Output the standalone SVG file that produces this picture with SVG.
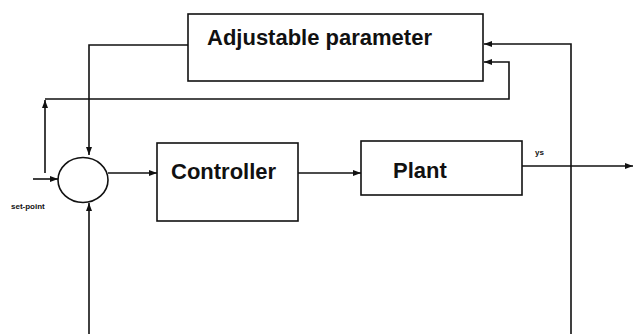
<svg xmlns="http://www.w3.org/2000/svg" width="634" height="334" viewBox="0 0 634 334">
<defs>
<marker id="ah" markerWidth="8" markerHeight="6" refX="8" refY="3" orient="auto" markerUnits="userSpaceOnUse">
<path d="M0,0 L8,3 L0,6 Z" fill="#111"/>
</marker>
</defs>
<style>
.box{fill:#fff;stroke:#111;stroke-width:1.6}
.ln{fill:none;stroke:#111;stroke-width:1.6}
.big{font-family:"Liberation Sans",Arial,sans-serif;font-size:22px;font-weight:bold;fill:#111}
.small{font-family:"Liberation Sans",Arial,sans-serif;font-size:8px;font-weight:bold;fill:#111}
</style>
<rect width="634" height="334" fill="#fff"/>
<g id="connectors">
<path class="ln" d="M188,45 H89 V155" marker-end="url(#ah)"/>
<path class="ln" d="M45,173 V100" marker-end="url(#ah)"/>
<path class="ln" d="M45,99 H509 V62 H484" marker-end="url(#ah)"/>
<path class="ln" d="M33,179 H58" marker-end="url(#ah)"/>
<path class="ln" d="M108,173 H157" marker-end="url(#ah)"/>
<path class="ln" d="M298,173 H361" marker-end="url(#ah)"/>
<path class="ln" d="M522,166 H633" marker-end="url(#ah)"/>
<path class="ln" d="M571,334 V44 H484" marker-end="url(#ah)"/>
<path class="ln" d="M89,334 V203" marker-end="url(#ah)"/>
</g>
<g id="adjustable">
<rect class="box" x="188" y="14" width="295" height="67"/>
<text class="big" x="207" y="45">Adjustable parameter</text>
</g>
<g id="sum">
<ellipse class="box" cx="83" cy="180" rx="25" ry="22.5"/>
</g>
<g id="controller">
<rect class="box" x="157" y="143" width="141" height="78"/>
<text class="big" x="171" y="179">Controller</text>
</g>
<g id="plant">
<rect class="box" x="361" y="141" width="161" height="54"/>
<text class="big" x="393" y="178">Plant</text>
</g>
<text class="small" x="11" y="209">set-point</text>
<text class="small" x="535" y="155">ys</text>
</svg>
